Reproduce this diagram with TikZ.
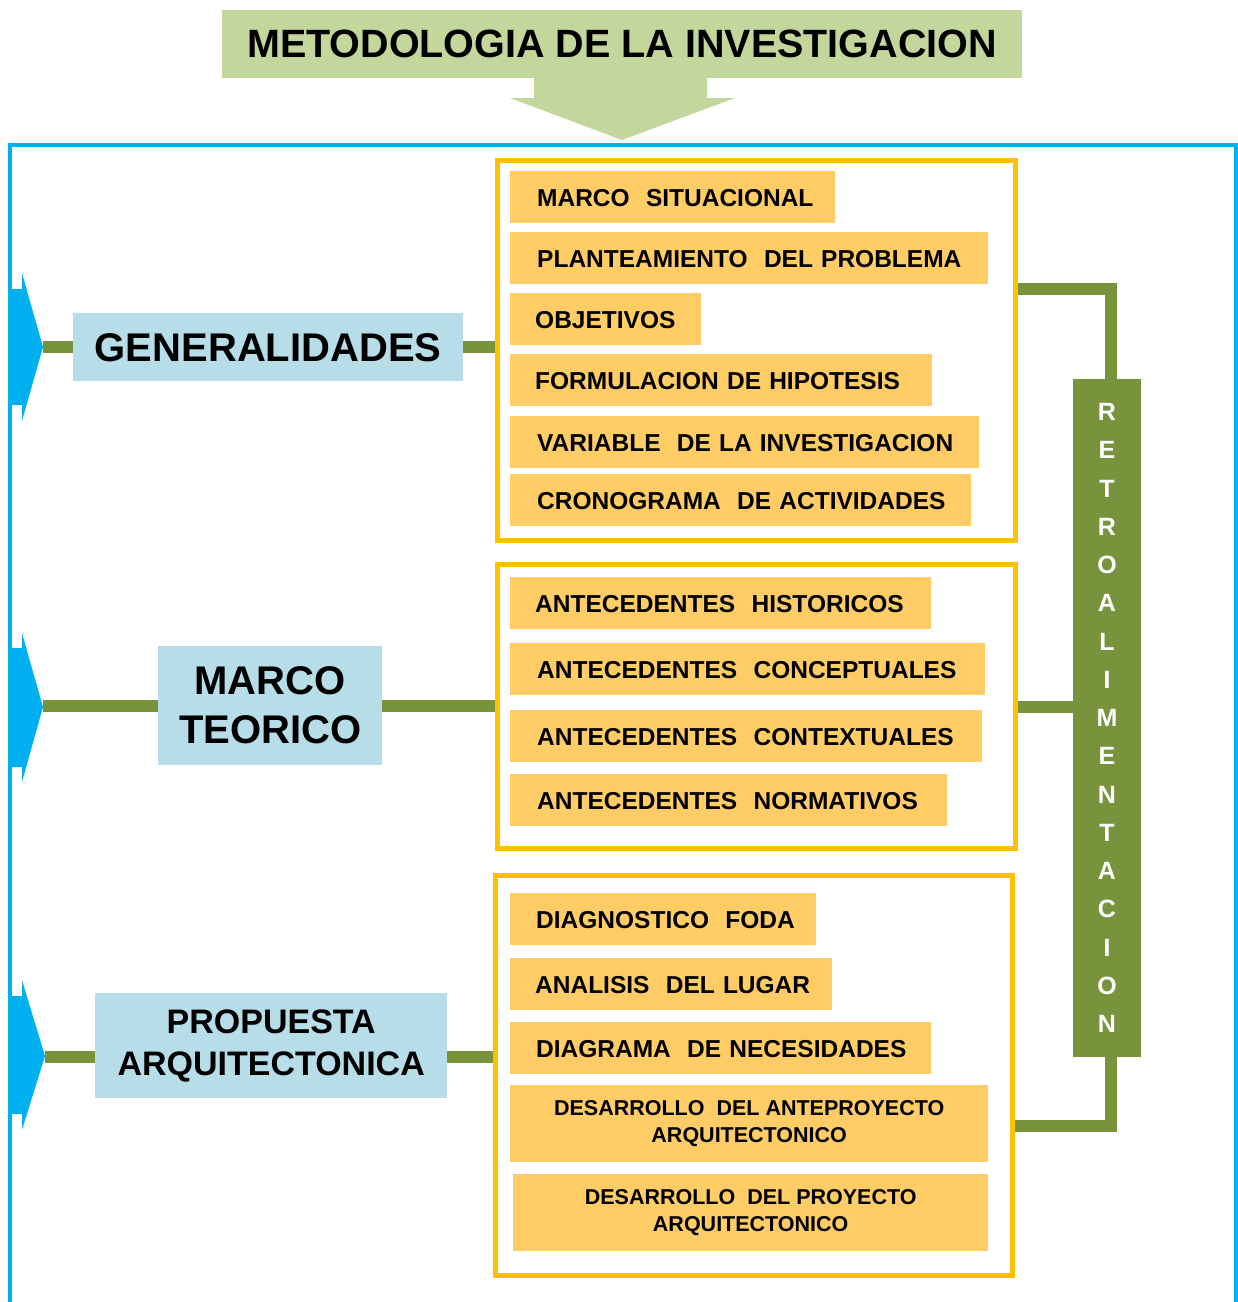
\documentclass[tikz,border=0pt]{standalone}
\usepackage{fontspec}
\setmainfont{Liberation Sans}
\definecolor{colTitle}{HTML}{C3D69B}
\definecolor{colOlive}{HTML}{77933C}
\definecolor{colLBlue}{HTML}{B7DDE8}
\definecolor{colFrame}{HTML}{FFC000}
\definecolor{colItem}{HTML}{FFCC66}
\definecolor{colBlue}{HTML}{00B0F0}
\begin{document}
\begin{tikzpicture}[x=1pt,y=-1pt,
  conn/.style={draw=colOlive, line width=12pt},
  bluearrow/.style={fill=colBlue, draw=none},
  framebox/.style={draw=colFrame, line width=5pt, fill=white, anchor=north west, inner sep=0pt},
  bluebox/.style={fill=colLBlue, anchor=north west, inner sep=0pt, align=center},
  itembox/.style={fill=colItem, anchor=north west, inner sep=0pt, minimum height=52pt,
     text height=18pt, text depth=0pt, align=left, font=\fontsize{24.5}{30}\selectfont\bfseries},
  itemtwo/.style={fill=colItem, anchor=north west, inner sep=0pt, minimum height=77pt,
     align=center, font=\fontsize{21.5}{27}\selectfont\bfseries},
  retrobar/.style={fill=colOlive, inner sep=0pt, minimum width=68pt, minimum height=678pt,
     align=center, text=white, font=\fontsize{25}{38.25}\selectfont\bfseries}
]
\useasboundingbox (0,0) rectangle (1238,1302);

% title and arrow
\node[fill=colTitle, minimum width=800pt, minimum height=68pt, inner sep=0pt,
      font=\fontsize{39.5}{46}\selectfont\bfseries] (title) at (622,44) {METODOLOGIA DE LA INVESTIGACION};
\fill[colTitle] (534,78) -- (707,78) -- (707,98) -- (735,98) -- (622,140) -- (510,98) -- (534,98) -- cycle;

% outer blue frame
\draw[colBlue, line width=4pt] (10,1320) -- (10,145) -- (1236,145) -- (1236,1320);

% blue arrows on the left
\fill[bluearrow] (8,289) -- (22,289) -- (22,273) -- (43,347) -- (22,421) -- (22,405) -- (8,405) -- cycle;
\fill[bluearrow] (8,648) -- (22,648) -- (22,633) -- (43,707) -- (22,782) -- (22,767) -- (8,767) -- cycle;
\fill[bluearrow] (8,996) -- (22,996) -- (22,980) -- (45,1056) -- (22,1130) -- (22,1114) -- (8,1114) -- cycle;
\coordinate (a1) at (43,347);
\coordinate (a2) at (43,706);
\coordinate (a3) at (45,1057);

% main category boxes
\node[bluebox, minimum width=390pt, minimum height=68pt, text height=28.6pt, text depth=0pt,
      font=\fontsize{40}{48}\selectfont\bfseries] (gen) at (73,313) {GENERALIDADES};
\node[bluebox, minimum width=224pt, minimum height=119pt,
      font=\fontsize{40}{49}\selectfont\bfseries] (marco) at (158,646) {MARCO\\TEORICO};
\node[bluebox, minimum width=352pt, minimum height=105pt,
      font=\fontsize{34}{42}\selectfont\bfseries] (prop) at (95,993) {PROPUESTA\\ARQUITECTONICA};

% yellow frames
\node[framebox, minimum width=518pt, minimum height=380pt] (f1) at (495,158) {};
\node[framebox, minimum width=518pt, minimum height=284pt] (f2) at (495,562) {};
\node[framebox, minimum width=517pt, minimum height=400pt] (f3) at (493,873) {};

% connectors from arrows through boxes to frames
\draw[conn] (a1) -- (a1 -| gen.west);
\draw[conn] (gen.east) -- (gen.east -| f1.west);
\draw[conn] (a2) -- (a2 -| marco.west);
\draw[conn] (marco.east |- a2) -- (a2 -| f2.west);
\draw[conn] (a3) -- (a3 -| prop.west);
\draw[conn] (prop.east |- a3) -- (a3 -| f3.west);

% items frame 1
\node[itembox, text width=325pt] (i11) at (510,171) {\hspace*{27pt}MARCO\ \ SITUACIONAL};
\node[itembox, text width=478pt] (i12) at (510,232) {\hspace*{27pt}PLANTEAMIENTO\ \ DEL PROBLEMA};
\node[itembox, text width=191pt] (i13) at (510,293) {\hspace*{25pt}OBJETIVOS};
\node[itembox, text width=422pt] (i14) at (510,354) {\hspace*{25pt}FORMULACION DE HIPOTESIS};
\node[itembox, text width=469pt] (i15) at (510,416) {\hspace*{27pt}VARIABLE\ \ DE LA INVESTIGACION};
\node[itembox, text width=461pt] (i16) at (510,474) {\hspace*{27pt}CRONOGRAMA\ \ DE ACTIVIDADES};

% items frame 2
\node[itembox, text width=421pt] (i21) at (510,577) {\hspace*{25pt}ANTECEDENTES\ \ HISTORICOS};
\node[itembox, text width=475pt] (i22) at (510,643) {\hspace*{27pt}ANTECEDENTES\ \ CONCEPTUALES};
\node[itembox, text width=472pt] (i23) at (510,710) {\hspace*{27pt}ANTECEDENTES\ \ CONTEXTUALES};
\node[itembox, text width=437pt] (i24) at (510,774) {\hspace*{27pt}ANTECEDENTES\ \ NORMATIVOS};

% items frame 3
\node[itembox, text width=306pt] (i31) at (510,893) {\hspace*{26pt}DIAGNOSTICO\ \ FODA};
\node[itembox, text width=322pt] (i32) at (510,958) {\hspace*{25pt}ANALISIS\ \ DEL LUGAR};
\node[itembox, text width=421pt] (i33) at (510,1022) {\hspace*{26pt}DIAGRAMA\ \ DE NECESIDADES};
\node[itemtwo, minimum width=478pt] (i34) at (510,1085) {DESARROLLO\ \ DEL ANTEPROYECTO\\ARQUITECTONICO};
\node[itemtwo, minimum width=475pt] (i35) at (513,1174) {DESARROLLO\ \ DEL PROYECTO\\ARQUITECTONICO};

% retroalimentacion bar
\node[retrobar] (retro) at (1107,718) {R\\E\\T\\R\\O\\A\\L\\I\\M\\E\\N\\T\\A\\C\\I\\O\\N};
\coordinate (r1) at (1111,289);
\coordinate (r3) at (1111,1126);
\draw[conn] (f1.east |- r1) -- (r1) -- (r1 |- retro.north);
\draw[conn] (f2.east) -- (f2.east -| retro.west);
\draw[conn] (f3.east |- r3) -- (r3) -- (r3 |- retro.south);
\end{tikzpicture}
\end{document}
